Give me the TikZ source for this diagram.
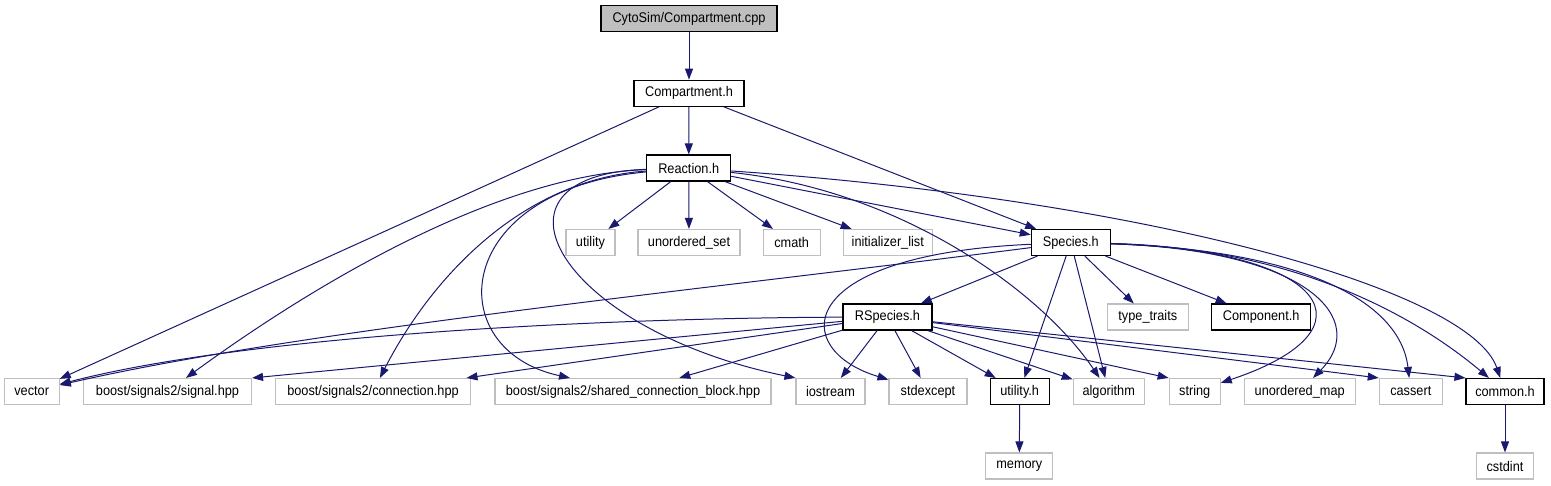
\documentclass[tikz,border=0pt]{standalone}
\usepackage{fontspec}
\setmainfont{Liberation Sans}[FakeStretch=0.91]
\usetikzlibrary{arrows.meta}
\definecolor{edgeblue}{HTML}{191970}
\definecolor{greyline}{HTML}{BFBFBF}

\begin{document}
\begin{tikzpicture}[
  x=1pt, y=-1pt,
  font=\fontsize{14}{16}\selectfont,
  file/.style={draw=black, line width=1.1pt, fill=white, minimum height=26pt, inner sep=0pt},
  sysfile/.style={file, draw=greyline},
  rootfile/.style={file, fill=greyline},
  inc/.style={-{Triangle[length=11pt,width=8pt]}, line width=1pt, draw=edgeblue}
]
\useasboundingbox (0,0) rectangle (1551,485);

% Row heights of the include graph (pixels, downwards).
\def\ya{18.7}
\def\yb{93.2}
\def\yc{168}
\def\yd{242.5}
\def\ye{317}
\def\yf{391.5}
\def\yg{466}

% Project headers.
\node[rootfile, minimum width=176] (cpp) at (689,\ya) {CytoSim/Compartment.cpp};
\node[file, minimum width=110] (compH) at (689,\yb) {Compartment.h};
\node[file, minimum width=84] (reactH) at (688.7,\yc) {Reaction.h};
\node[file, minimum width=79] (speciesH) at (1070.8,\yd) {Species.h};
\node[file, minimum width=89] (rspeciesH) at (887.5,\ye) {RSpecies.h};
\node[file, minimum width=99] (componentH) at (1261.2,\ye) {Component.h};
\node[file, minimum width=59] (utilH) at (1019.7,\yf) {utility.h};
\node[file, minimum width=78] (commonH) at (1505,\yf) {common.h};

% System and library headers.
\node[sysfile, minimum width=49] (utility) at (590.5,\yd) {utility};
\node[sysfile, minimum width=102] (uset) at (689,\yd) {unordered\_set};
\node[sysfile, minimum width=57] (cmath) at (791.7,\yd) {cmath};
\node[sysfile, minimum width=89] (initlist) at (887.8,\yd) {initializer\_list};
\node[sysfile, minimum width=81] (ttraits) at (1147.8,\ye) {type\_traits};
\node[sysfile, minimum width=55] (vector) at (31.7,\yf) {vector};
\node[sysfile, minimum width=168] (signal) at (167.5,\yf) {boost/signals2/signal.hpp};
\node[sysfile, minimum width=195] (connection) at (373,\yf) {boost/signals2/connection.hpp};
\node[sysfile, minimum width=276] (shared) at (633,\yf) {boost/signals2/shared\_connection\_block.hpp};
\node[sysfile, minimum width=69] (iostream) at (830.5,\yf) {iostream};
\node[sysfile, minimum width=78] (stdexcept) at (928,\yf) {stdexcept};
\node[sysfile, minimum width=71] (algorithm) at (1108.7,\yf) {algorithm};
\node[sysfile, minimum width=51] (string) at (1194.7,\yf) {string};
\node[sysfile, minimum width=111] (umap) at (1299.7,\yf) {unordered\_map};
\node[sysfile, minimum width=63] (cassert) at (1410.8,\yf) {cassert};
\node[sysfile, minimum width=67] (memory) at (1019.3,\yg) {memory};
\node[sysfile, minimum width=57] (cstdint) at (1505,\yg) {cstdint};

% Source file and Compartment.h.
\draw[inc] (cpp) -- (compH);
\draw[inc] (compH) -- (reactH);
\draw[inc] (compH) -- (vector);
\draw[inc] (compH) -- (speciesH);

% Reaction.h includes.
\draw[inc] (reactH) -- (utility);
\draw[inc] (reactH) -- (uset);
\draw[inc] (reactH) -- (cmath);
\draw[inc] (reactH) -- (initlist);
\draw[inc] (reactH) -- (speciesH);
\draw[inc] (reactH) .. controls (500,175) and (320,280) .. (signal);
\draw[inc] (reactH) .. controls (520,180) and (430,280) .. (connection);
\draw[inc] (reactH) .. controls (450,190) and (440,350) .. (shared);
\draw[inc] (reactH) .. controls (470,175) and (560,330) .. (iostream.north west);
\draw[inc] (reactH) .. controls (900,190) and (1040,290) .. (algorithm);
\draw[inc] (reactH) .. controls (1150,200) and (1470,290) .. (commonH);

% Species.h includes.
\draw[inc] (speciesH) -- (rspeciesH);
\draw[inc] (speciesH) .. controls (700,290) and (300,330) .. (vector);
\draw[inc] (speciesH) .. controls (790,255) and (790,350) .. (stdexcept);
\draw[inc] (speciesH) -- (utilH);
\draw[inc] (speciesH) -- (algorithm);
\draw[inc] (speciesH) -- (ttraits);
\draw[inc] (speciesH) -- (componentH);
\draw[inc] (speciesH) .. controls (1330,250) and (1380,330) .. (string);
\draw[inc] (speciesH) .. controls (1310,250) and (1370,320) .. (umap);
\draw[inc] (speciesH) .. controls (1300,250) and (1400,300) .. (cassert);
\draw[inc] (speciesH) .. controls (1300,248) and (1420,320) .. (commonH);

% RSpecies.h includes.
\draw[inc] (rspeciesH) .. controls (600,318) and (250,335) .. (vector);
\draw[inc] (rspeciesH) -- (signal.north east);
\draw[inc] (rspeciesH) -- (connection);
\draw[inc] (rspeciesH) -- (shared);
\draw[inc] (rspeciesH) -- (iostream);
\draw[inc] (rspeciesH) -- (stdexcept);
\draw[inc] (rspeciesH) -- (utilH);
\draw[inc] (rspeciesH) -- (algorithm);
\draw[inc] (rspeciesH) -- (string.north west);
\draw[inc] (rspeciesH) -- (cassert.north west);
\draw[inc] (rspeciesH) -- (commonH.north west);

% Last level.
\draw[inc] (utilH) -- (memory);
\draw[inc] (commonH) -- (cstdint);

\end{tikzpicture}
\end{document}
